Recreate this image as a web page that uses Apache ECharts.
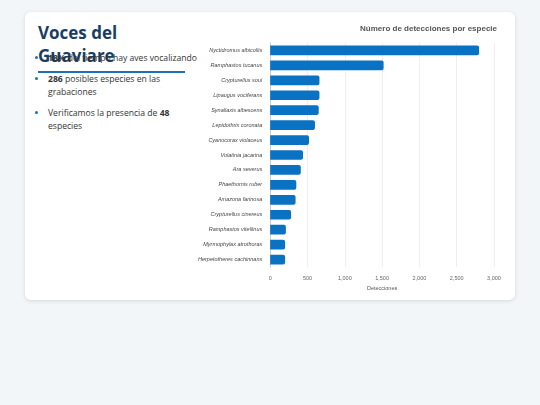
<!DOCTYPE html>
<html><head><meta charset="utf-8">
<script src="https://cdn.jsdelivr.net/npm/echarts@6/dist/echarts.min.js"></script>
<style>
body{margin:0;width:540px;height:405px;background:#f3f6f8;font-family:"Open Sans",sans-serif;position:relative;}
.card{position:absolute;left:25px;top:12px;width:490px;height:288px;background:#fff;border-radius:6px;box-shadow:0 1px 4px rgba(0,0,0,0.12);}
h1{position:absolute;left:13px;top:9px;margin:0;font-size:17px;color:#1a3e63;font-weight:700;padding-bottom:4px;border-bottom:2px solid #1d6fb8;width:147px;}
ul{position:absolute;left:8px;top:40px;margin:0;padding-left:15px;width:150px;font-size:8.6px;color:#333;line-height:13px;}
li{margin-bottom:8px;}
li::marker{color:#1d6fb8;}
#c{position:absolute;left:170px;top:0;width:320px;height:288px;}
</style></head><body>
<div class="card">
<h1>Voces del Guaviare</h1>
<ul>
<li><b>18%</b> del tiempo hay aves vocalizando</li>
<li><b>286</b> posibles especies en las grabaciones</li>
<li>Verificamos la presencia de <b>48</b> especies</li>
</ul>
<div id="c"></div>
</div>
<script>
const species=["Nyctidromus albicollis","Ramphastos tucanus","Crypturellus soui","Lipaugus vociferans","Synallaxis albescens","Lepidothrix coronata","Cyanocorax violaceus","Volatinia jacarina","Ara severus","Phaethornis ruber","Amazona farinosa","Crypturellus cinereus","Ramphastos vitellinus","Myrmophylax atrothorax","Herpetotheres cachinnans"];
const detections=[2800,1520,660,660,650,600,520,440,410,350,340,280,210,200,200];
const ch=echarts.init(document.getElementById('c'));
ch.setOption({
 animation:false,
 title:{text:"Número de detecciones por especie",right:13,top:8,textStyle:{fontSize:8,fontWeight:'bold',color:'#555'}},
 grid:{left:74,right:21,top:31,bottom:33},
 xAxis:{type:'value',min:0,max:3000,interval:500,name:'Detecciones',nameLocation:'middle',nameGap:14,nameTextStyle:{fontSize:5.5,color:'#555'},
  axisLabel:{fontSize:5.5,color:'#666',formatter:v=>v.toLocaleString('en-US')},splitLine:{lineStyle:{color:'#eee'}},axisLine:{show:false},axisTick:{show:false}},
 yAxis:{type:'category',data:species,inverse:true,axisLabel:{fontSize:5.5,fontStyle:'italic',color:'#444'},axisLine:{lineStyle:{color:'#ccc'}},axisTick:{show:false}},
 series:[{type:'bar',data:detections,barWidth:'65%',itemStyle:{color:'#0a72c2',borderRadius:[0,2,2,0]}}]
});
</script></body></html>
